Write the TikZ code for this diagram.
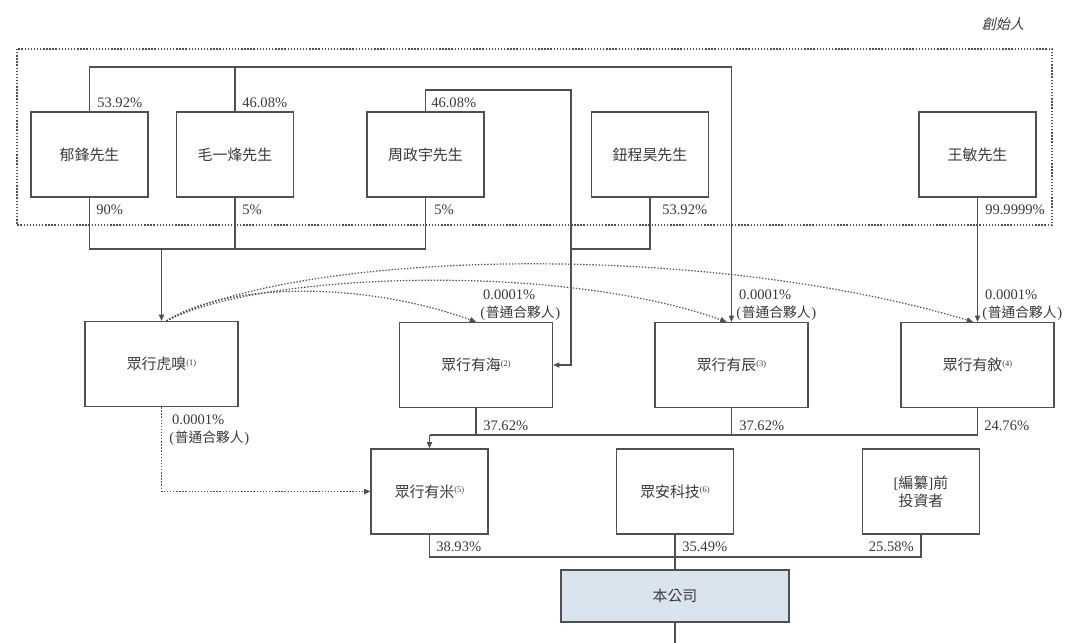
\documentclass[tikz,border=0pt]{standalone}
\usepackage{fontspec}
\setmainfont{Liberation Serif}
\newfontfamily\cjk{Noto Sans CJK TC}
\newfontfamily\cjkslant{Noto Sans CJK TC}[FakeSlant=0.22]
\usetikzlibrary{arrows.meta,calc}
\definecolor{lc}{HTML}{505050}
\definecolor{tc}{HTML}{3A3A3A}
\definecolor{cofill}{HTML}{D9E4EE}
\newcommand\supn[1]{\raisebox{0.55ex}{\rmfamily\fontsize{6}{7}\selectfont(#1)}}
\newcommand\gpt{\rmfamily(\kern0.5pt{\cjk\fontsize{9.8}{12}\selectfont 普通合夥人}\kern0.5pt)}
\begin{document}
\begin{tikzpicture}[x=0.025cm,y=-0.025cm,
  box/.style={draw=lc,line width=0.9pt,minimum width=2.925cm,minimum height=2.125cm,inner sep=0pt,text=tc,font=\cjk\fontsize{10.6}{13}\selectfont,align=center},
  wbox/.style={box,minimum width=3.825cm},
  ln/.style={draw=lc,line width=0.75pt},
  arr/.style={ln,-{Triangle[length=4.5pt,width=3.8pt]}},
  dt/.style={draw=lc,line width=0.85pt,dash pattern=on 1pt off 1.2pt},
  dtarr/.style={dt,-{Triangle[length=4.5pt,width=3.8pt]}},
  pct/.style={text=tc,font=\rmfamily\fontsize{10.35}{12}\selectfont,inner sep=0pt,anchor=west},
  gp/.style={text=tc,font=\rmfamily\fontsize{10.35}{12.8}\selectfont,inner sep=0pt,anchor=west,align=left},
]
\useasboundingbox (0,0) rectangle (1080,643);

% founders frame
\draw[dt] (17,49) rectangle (1052,225);
\node[text=tc,font=\cjkslant\fontsize{10}{12}\selectfont,inner sep=0pt] (founder) at (1003,24) {創始人};

% top row
\node[box] (yu)   at (89.5,154.5)  {郁鋒先生};
\node[box] (mao)  at (235,154.5)   {毛一烽先生};
\node[box] (zhou) at (425.5,154.5) {周政宇先生};
\node[box] (niu)  at (650,154.5)   {鈕程昊先生};
\node[box] (wang) at (977.5,154.5) {王敏先生};

% middle row
\node[wbox] (hx) at (161.5,364)  {眾行虎嗅\supn{1}};
\node[wbox] (yh) at (476,365)    {眾行有海\supn{2}};
\node[wbox] (yc) at (731.5,365)  {眾行有辰\supn{3}};
\node[wbox] (yx) at (977.5,365)  {眾行有敘\supn{4}};

% bottom row
\node[box] (ym)   at (429.5,491.5) {眾行有米\supn{5}};
\node[box] (zakj) at (675,491.5)   {眾安科技\supn{6}};
\node[box] (pre)  at (921,491.5)   {{\rmfamily[}編纂{\rmfamily]}前\\投資者};
\node[box,fill=cofill,minimum width=5.7cm,minimum height=1.3cm] (co) at (675,596) {本公司};

% helper coordinates
\coordinate (topline) at (0,67);
\coordinate (zl) at (0,90);
\coordinate (zx) at (571,0);
\coordinate (midline) at (0,249);
\coordinate (m2) at (0,435);
\coordinate (b2) at (0,557);
\coordinate (bottom) at (675,643);

% top connectors
\draw[arr] (yu.north) |- (yc.north |- topline) -- (yc.north);
\draw[ln] (mao.north) -- (mao.north |- topline);
\draw[arr] (zhou.north) |- (zx |- zl) -- (zx |- yh.east) -- (yh.east);
\draw[ln] (niu.south) |- (zx |- midline);
\draw[ln] (yu.south) |- (zhou.south |- midline) -- (zhou.south);
\draw[ln] (mao.south) -- (mao.south |- midline);
\draw[arr] (hx.north |- midline) -- (hx.north);
\draw[arr] (wang.south) -- (yx.north);

% dotted GP arcs
\draw[dtarr] ($(hx.north)+(5,0)$) .. controls (225,283) and (360,280) .. (yh.north);
\draw[dtarr] ($(hx.north)+(5,0)$) .. controls (260,272) and (560,262) .. ($(yc.north)+(-5,0)$);
\draw[dtarr] ($(hx.north)+(5,0)$) .. controls (300,250) and (700,240) .. ($(yx.north)+(-4.5,0)$);
\draw[dtarr] (hx.south) |- (ym.west);

% middle to bottom
\draw[ln] (yx.south) |- (ym.north |- m2);
\draw[ln] (yh.south) -- (yh.south |- m2);
\draw[ln] (yc.south) -- (yc.south |- m2);
\draw[arr] (ym.north |- m2) -- (ym.north);

% bottom to company
\draw[ln] (ym.south) |- (pre.south |- b2) -- (pre.south);
\draw[ln] (zakj.south) -- (co.north);
\draw[ln] (co.south) -- (bottom);

% percentage labels
\node[pct] (l1) at (97,103)  {53.92\%};
\node[pct] (l2) at (242,103) {46.08\%};
\node[pct] (l3) at (431,103) {46.08\%};
\node[pct] (l4) at (96,210)  {90\%};
\node[pct] (l5) at (242,210) {5\%};
\node[pct] (l6) at (434,210) {5\%};
\node[pct] (l7) at (662,210) {53.92\%};
\node[pct] (l8) at (985,210) {99.9999\%};

\node[gp] (g1) at (480,305) {\kern2pt0.0001\%\\\gpt};
\node[gp] (g2) at (736,305) {\kern2pt0.0001\%\\\gpt};
\node[gp] (g3) at (982,305) {\kern2pt0.0001\%\\\gpt};
\node[gp] (g4) at (169,430) {\kern2pt0.0001\%\\\gpt};

\node[pct] (l9)  at (483,426) {37.62\%};
\node[pct] (l10) at (739,426) {37.62\%};
\node[pct] (l11) at (984,426) {24.76\%};

\node[pct] (l12) at (436,547) {38.93\%};
\node[pct] (l13) at (682,547) {35.49\%};
\node[pct,anchor=east] (l14) at (914,547) {25.58\%};
\end{tikzpicture}
\end{document}
